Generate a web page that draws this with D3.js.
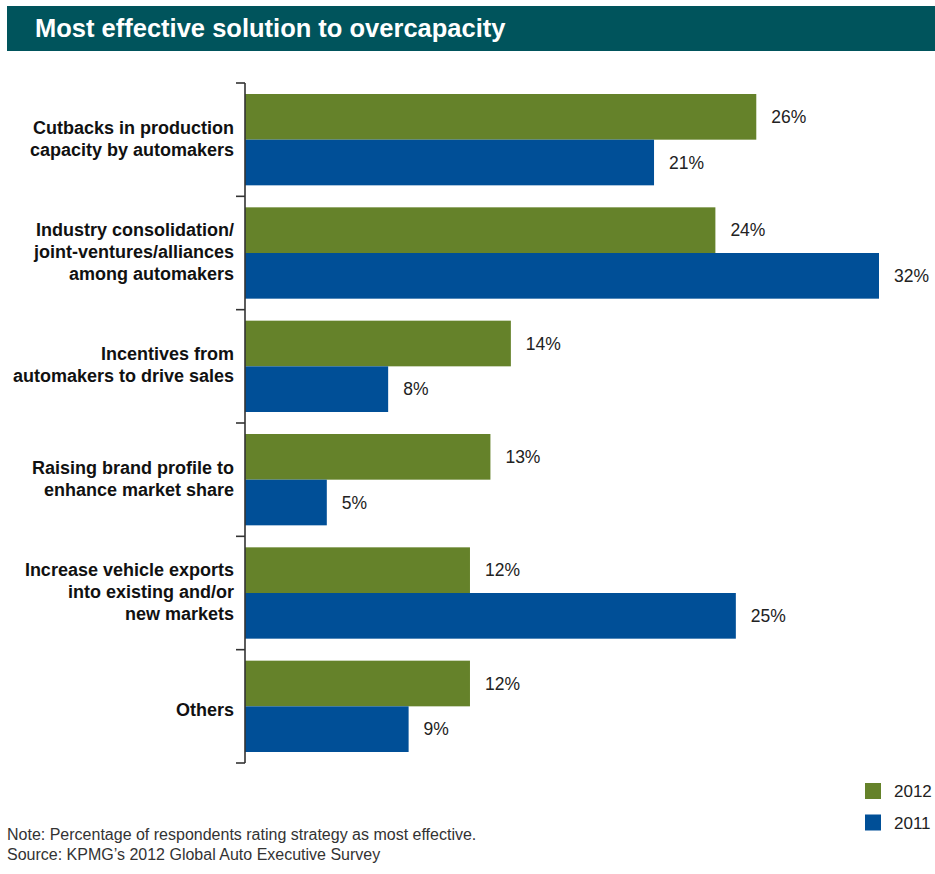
<!DOCTYPE html>
<html>
<head>
<meta charset="utf-8">
<script src="https://cdn.jsdelivr.net/npm/d3@7"></script>
<style>
  html, body { margin: 0; padding: 0; background: #fff; }
  svg { display: block; font-family: "Liberation Sans", Arial, sans-serif; }
</style>
</head>
<body>
<svg id="chart" width="935" height="874"></svg>
<script>
const title = "Most effective solution to overcapacity";
const categories = [
  ["Cutbacks in production", "capacity by automakers"],
  ["Industry consolidation/", "joint-ventures/alliances", "among automakers"],
  ["Incentives from", "automakers to drive sales"],
  ["Raising brand profile to", "enhance market share"],
  ["Increase vehicle exports", "into existing and/or", "new markets"],
  ["Others"]
];
const seriesNames = ["2012", "2011"];
const values2012 = [26, 24, 14, 13, 12, 12];
const values2011 = [21, 32, 8, 5, 25, 9];
const seriesColors = ["#65822A", "#004F97"];
const notes = [
  "Note: Percentage of respondents rating strategy as most effective.",
  "Source: KPMG\u2019s 2012 Global Auto Executive Survey"
];

const svg = d3.select("#chart");
const W = 935;

// Title bar
svg.append("rect").attr("x", 7).attr("y", 6).attr("width", W - 7).attr("height", 45).attr("fill", "#00545C");
svg.append("text").attr("x", 35).attr("y", 37).attr("fill", "#fff")
  .attr("font-size", 25.5).attr("font-weight", "bold").text(title);

const catKeys = categories.map((c, i) => i);
const y = d3.scaleBand().domain(catKeys).range([83, 763]).paddingInner(0).paddingOuter(0);
const bw = y.bandwidth();
const pad = 11;
const y1 = d3.scaleBand().domain(seriesNames).range([pad, bw - pad]);
const x = d3.scaleLinear().domain([1, 32]).range([245, 879]);

const data = catKeys.map(i => ({ i, vals: [values2012[i], values2011[i]] }));

const groups = svg.append("g").selectAll("g").data(data).join("g")
  .attr("transform", d => `translate(0,${y(d.i)})`);

groups.selectAll("rect").data(d => d.vals.map((v, k) => ({ v, k })))
  .join("rect")
  .attr("x", x(1))
  .attr("y", d => y1(seriesNames[d.k]))
  .attr("width", d => x(d.v) - x(1))
  .attr("height", y1.bandwidth())
  .attr("fill", d => seriesColors[d.k]);

groups.selectAll("text.val").data(d => d.vals.map((v, k) => ({ v, k })))
  .join("text")
  .attr("class", "val")
  .attr("x", d => x(d.v) + 15)
  .attr("y", d => y1(seriesNames[d.k]) + y1.bandwidth() / 2)
  .attr("dy", "0.36em")
  .attr("font-size", 17.5)
  .attr("fill", "#222")
  .text(d => d.v + "%");

// Category labels
groups.append("text")
  .attr("text-anchor", "end")
  .attr("font-size", 18)
  .attr("font-weight", "bold")
  .attr("fill", "#111")
  .each(function(d) {
    const lines = categories[d.i];
    const lh = 22;
    const extra = lines.length === 1 ? 5 : 0;
    const start = bw / 2 - (lines.length - 1) * lh / 2 + 5 + extra;
    d3.select(this).selectAll("tspan").data(lines).join("tspan")
      .attr("x", 234)
      .attr("y", (l, j) => start + j * lh)
      .text(l => l);
  });

// Axis line with ticks at band boundaries
const axisG = svg.append("g").attr("stroke", "#333").attr("stroke-width", 1.6);
axisG.append("line").attr("x1", x(1)).attr("x2", x(1)).attr("y1", y.range()[0]).attr("y2", y.range()[1]);
const bounds = catKeys.map(i => y(i)).concat([y.range()[1]]);
axisG.selectAll("line.tick").data(bounds).join("line").attr("class", "tick")
  .attr("x1", x(1) - 9).attr("x2", x(1)).attr("y1", d => d).attr("y2", d => d);

// Legend
const leg = svg.append("g").selectAll("g").data(seriesNames).join("g")
  .attr("transform", (d, i) => `translate(865,${783 + i * 31.5})`);
leg.append("rect").attr("width", 16).attr("height", 16).attr("fill", (d, i) => seriesColors[i]);
leg.append("text").attr("x", 29).attr("y", 8).attr("dy", "0.36em")
  .attr("font-size", 17).attr("fill", "#222").text(d => d);

// Notes
svg.append("g").selectAll("text").data(notes).join("text")
  .attr("x", 7).attr("y", (d, i) => 840 + i * 20)
  .attr("font-size", 16).attr("fill", "#333").text(d => d);
</script>
</body>
</html>
